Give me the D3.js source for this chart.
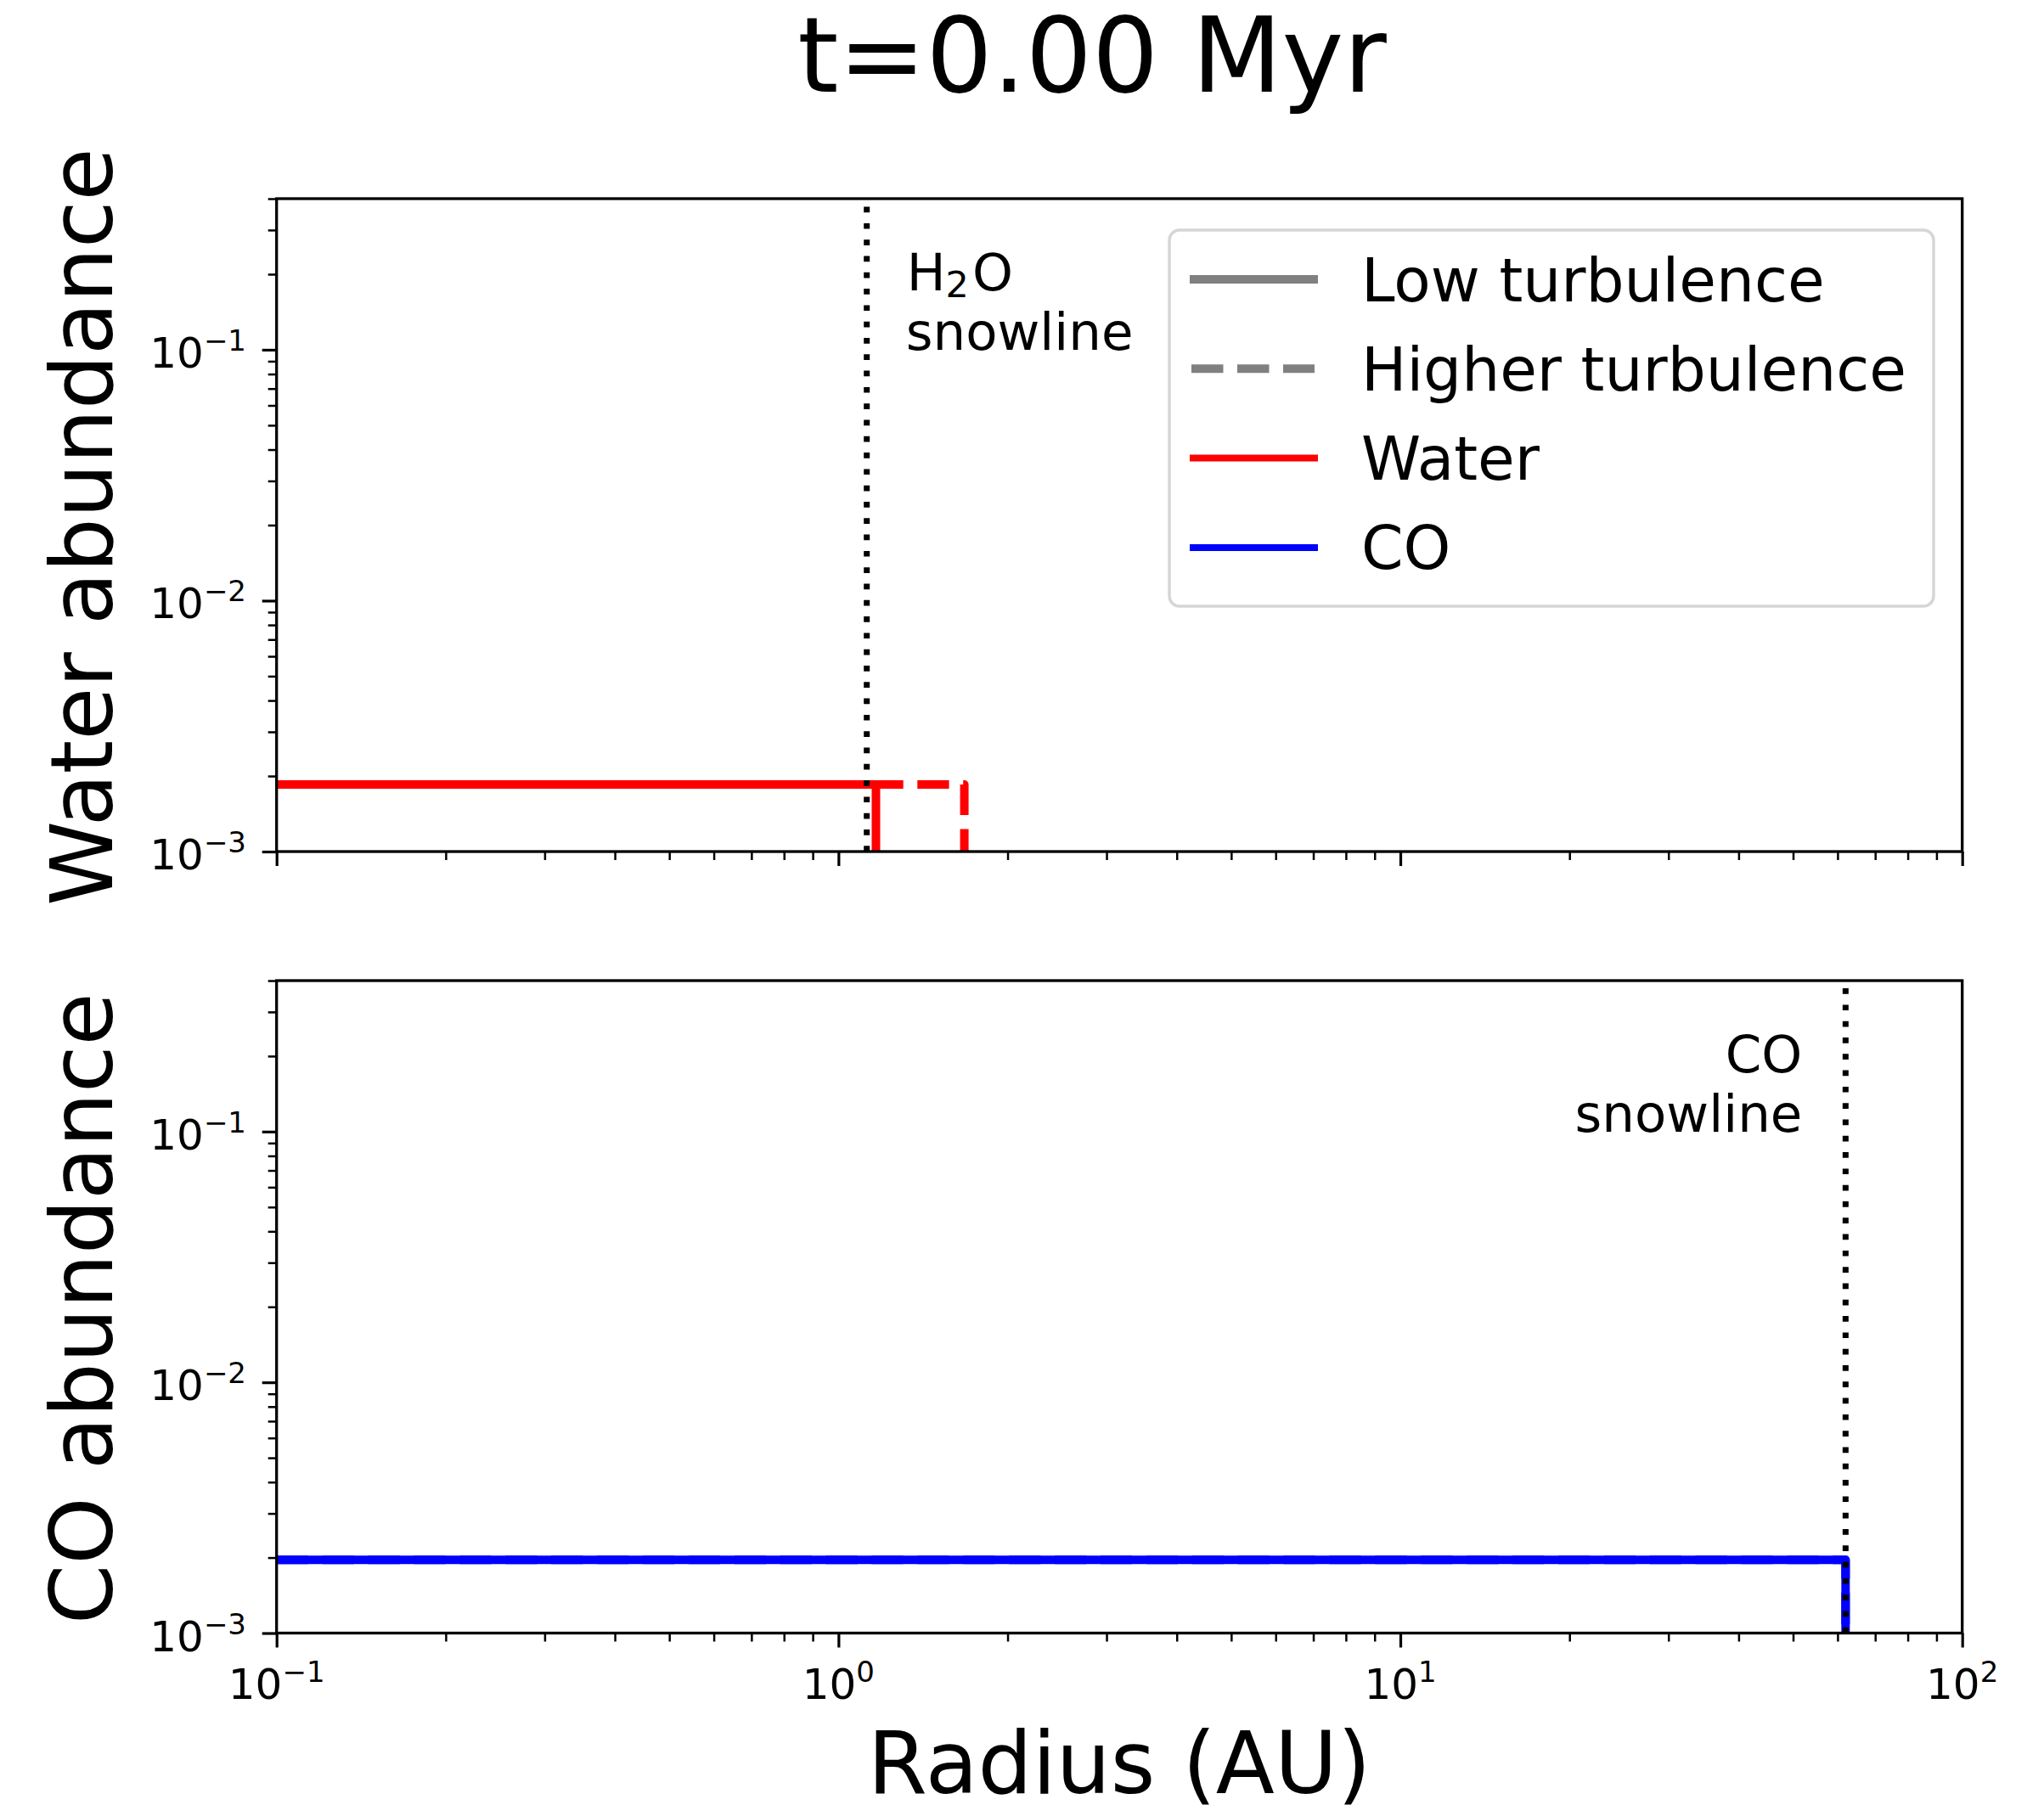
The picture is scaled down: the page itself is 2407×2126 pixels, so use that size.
<!DOCTYPE html>
<html>
<head>
<meta charset="utf-8">
<script src="https://cdn.jsdelivr.net/npm/d3@7"></script>
<style>
body { margin: 0; background: #fff; }
text { font-family: "DejaVu Sans", sans-serif; fill: #000; }
</style>
</head>
<body>
<div id="vis"></div>
<script>
// step profiles (radius in AU, abundance)
var waterLowRadius  = [0.1, 1.166, 1.166, 100];
var waterLowValue   = [1.85e-3, 1.85e-3, 1e-6, 1e-6];
var waterHighRadius = [0.1, 1.675, 1.675, 100];
var waterHighValue  = [1.85e-3, 1.85e-3, 1e-6, 1e-6];
var coLowRadius  = [0.1, 62.0, 62.0, 100];
var coLowValue   = [1.96e-3, 1.96e-3, 1e-6, 1e-6];
var coHighRadius = [0.1, 62.0, 62.0, 100];
var coHighValue  = [1.96e-3, 1.96e-3, 1e-6, 1e-6];

var snowlineRadius = [1.123, 62.0];
var xTicks = [0.1, 1, 10, 100];
var xTickExp = ['\u22121', '0', '1', '2'];
var yTicks = [1e-3, 1e-2, 1e-1];
var yTickExp = ['\u22123', '\u22122', '\u22121'];
var legendLabels = ['Low turbulence', 'Higher turbulence', 'Water', 'CO'];

var width = 2407, height = 2126,
    left = 325.7, right = 2310.7,
    panels = [{top: 234, bottom: 1003}, {top: 1155, bottom: 1923.5}],
    dash = '37.3,16.6',
    dots = '6.7,12.6';

var svg = d3.select('#vis').append('svg')
    .attr('width', width)
    .attr('height', height);

var x = d3.scaleLog().domain([0.1, 100]).range([left, right]);

var minorX = [], minorY = [];
[0.1, 1, 10].forEach(function(d) {
    for (var k = 2; k <= 9; k++) minorX.push(d * k);
});
[1e-3, 1e-2, 1e-1].forEach(function(d) {
    for (var k = 2; k <= 9; k++) if (d * k <= 0.4) minorY.push(d * k);
});

var line = function(xs, ys, yScale) {
    return d3.line()
        .x(function(d, i) { return x(xs[i]); })
        .y(function(d, i) { return yScale(ys[i]); })(xs);
};

panels.forEach(function(p, idx) {
    var y = d3.scaleLog().domain([1e-3, 0.4]).range([p.bottom, p.top]);
    p.y = y;

    svg.append('clipPath').attr('id', 'clip' + idx)
        .append('rect')
        .attr('x', left).attr('y', p.top)
        .attr('width', right - left).attr('height', p.bottom - p.top);

    var plot = svg.append('g').attr('clip-path', 'url(#clip' + idx + ')');

    if (idx === 0) {
        plot.append('path').attr('d', line(waterHighRadius, waterHighValue, y))
            .attr('fill', 'none').attr('stroke', '#ff0000').attr('stroke-width', 10)
            .attr('stroke-dasharray', dash).attr('stroke-linejoin', 'round');
        plot.append('path').attr('d', line(waterLowRadius, waterLowValue, y))
            .attr('fill', 'none').attr('stroke', '#ff0000').attr('stroke-width', 10)
            .attr('stroke-linejoin', 'round');
    } else {
        plot.append('path').attr('d', line(coHighRadius, coHighValue, y))
            .attr('fill', 'none').attr('stroke', '#0000ff').attr('stroke-width', 10)
            .attr('stroke-dasharray', dash).attr('stroke-linejoin', 'round');
        plot.append('path').attr('d', line(coLowRadius, coLowValue, y))
            .attr('fill', 'none').attr('stroke', '#0000ff').attr('stroke-width', 10)
            .attr('stroke-linejoin', 'round');
    }

    // snowline (drawn bottom -> top like axvline)
    var sx = x(snowlineRadius[idx]);
    plot.append('line')
        .attr('x1', sx).attr('x2', sx)
        .attr('y1', p.bottom).attr('y2', p.top)
        .attr('stroke', '#000').attr('stroke-width', 7)
        .attr('stroke-dasharray', dots);

    // ticks
    var xMajor = d3.axisBottom(x).tickValues(xTicks).tickSize(17).tickFormat('');
    var xMinor = d3.axisBottom(x).tickValues(minorX).tickSize(10).tickFormat('');
    var yMajor = d3.axisLeft(y).tickValues(yTicks).tickSize(17).tickFormat('');
    var yMinor = d3.axisLeft(y).tickValues(minorY).tickSize(10).tickFormat('');

    [[xMajor, 3.2, 'translate(0,' + p.bottom + ')'],
     [xMinor, 2.5, 'translate(0,' + p.bottom + ')'],
     [yMajor, 3.2, 'translate(' + left + ',0)'],
     [yMinor, 2.5, 'translate(' + left + ',0)']].forEach(function(a) {
        var g = svg.append('g').attr('transform', a[2]).call(a[0]);
        g.select('.domain').remove();
        g.selectAll('line').attr('stroke', '#000').attr('stroke-width', a[1]);
    });

    svg.append('rect')
        .attr('x', left).attr('y', p.top)
        .attr('width', right - left).attr('height', p.bottom - p.top)
        .attr('fill', 'none').attr('stroke', '#000').attr('stroke-width', 3.3);

    // y tick labels
    yTicks.forEach(function(t, i) {
        var tx = svg.append('text')
            .attr('x', 290).attr('y', y(t) + 21)
            .attr('text-anchor', 'end').attr('font-size', 50)
            .text('10');
        tx.append('tspan').attr('dy', -20).attr('font-size', 34).text(yTickExp[i]);
    });

    // snowline annotation
    var ann = svg.append('text').attr('font-size', 61);
    if (idx === 0) {
        ann.attr('x', sx + 47).attr('y', p.top + 108);
        ann.append('tspan').text('H');
        ann.append('tspan').attr('font-size', 43).attr('dy', 8).text('2');
        ann.append('tspan').attr('dy', -8).attr('dx', 4).text('O');
        svg.append('text').attr('font-size', 61)
            .attr('x', sx + 46).attr('y', p.top + 178).text('snowline');
    } else {
        ann.attr('x', sx - 51).attr('y', p.top + 108)
            .attr('text-anchor', 'end').text('CO');
        svg.append('text').attr('font-size', 61)
            .attr('x', sx - 51).attr('y', p.top + 178)
            .attr('text-anchor', 'end').text('snowline');
    }
});

// x tick labels on the bottom panel
xTicks.forEach(function(t, i) {
    var tx = svg.append('text')
        .attr('x', x(t)).attr('y', panels[1].bottom + 77)
        .attr('text-anchor', 'middle').attr('font-size', 50)
        .text('10');
    tx.append('tspan').attr('dy', -20).attr('font-size', 34).text(xTickExp[i]);
});

// axis titles
svg.append('text')
    .attr('x', 1286).attr('y', 108)
    .attr('text-anchor', 'middle').attr('font-size', 123)
    .text('t=0.00 Myr');

svg.append('text')
    .attr('x', 1318).attr('y', 2112)
    .attr('text-anchor', 'middle').attr('font-size', 101)
    .text('Radius (AU)');

['Water abundance', 'CO abundance'].forEach(function(label, i) {
    var p = panels[i];
    svg.append('text')
        .attr('transform', 'translate(132,' + ((p.top + p.bottom) / 2 + 2) + ') rotate(-90)')
        .attr('text-anchor', 'middle').attr('font-size', 101)
        .text(label);
});

// legend
var legend = svg.append('g');
legend.append('rect')
    .attr('x', 1377).attr('y', 271)
    .attr('width', 900).attr('height', 443)
    .attr('rx', 12)
    .attr('fill', '#fff').attr('fill-opacity', 0.8)
    .attr('stroke', '#d6d6d6').attr('stroke-width', 3.5);

var legendStyle = [
    {color: '#808080', w: 10, dash: null},
    {color: '#808080', w: 10, dash: '37.5,16.5'},
    {color: '#ff0000', w: 8, dash: null},
    {color: '#0000ff', w: 8, dash: null}
];
legendLabels.forEach(function(label, i) {
    var ry = 329 + i * 105.3;
    var s = legendStyle[i];
    legend.append('line')
        .attr('x1', s.dash ? 1403 : 1401).attr('x2', s.dash ? 1548 : 1552)
        .attr('y1', ry).attr('y2', ry)
        .attr('stroke', s.color).attr('stroke-width', s.w)
        .attr('stroke-dasharray', s.dash);
    legend.append('text')
        .attr('x', 1603).attr('y', ry + 25.5)
        .attr('font-size', 71)
        .text(label);
});
</script>
</body>
</html>
